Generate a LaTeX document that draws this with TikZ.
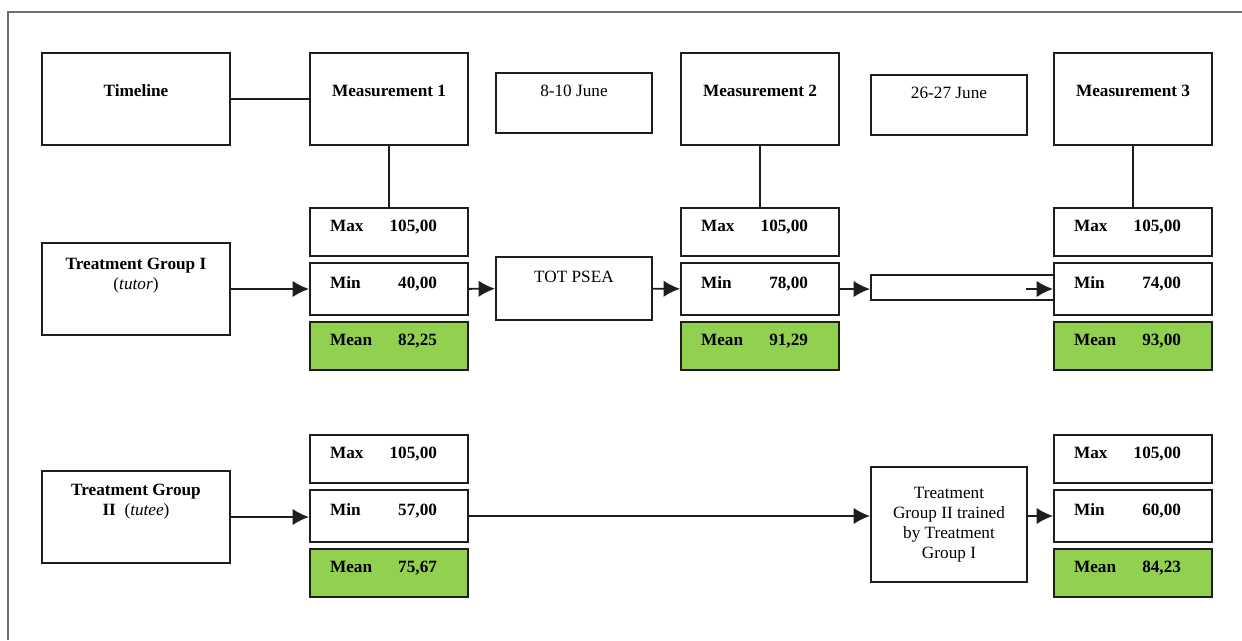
\documentclass[tikz,border=0pt]{standalone}
\usepackage{fontspec}
\setmainfont{Liberation Serif}
\usepackage{xcolor}
\usepackage{tikz}
\usetikzlibrary{positioning, arrows.meta}
\definecolor{meangreen}{HTML}{92D050}
\definecolor{framegray}{HTML}{707070}
\definecolor{boxline}{HTML}{1E1E1E}

\begin{document}
\begin{tikzpicture}[x=0.02cm, y=-0.02cm, >={Latex[length=3.3mm, width=3.3mm]}, line width=1.1pt, draw=boxline,
  every node/.style={font=\fontsize{9.8}{11.4}\selectfont},
  box/.style={draw=boxline, rectangle, align=center, inner sep=2pt},
  boldbox/.style={box, font=\fontsize{9.8}{11.4}\selectfont\bfseries},
  headbox/.style={boldbox, minimum width=3.16cm, minimum height=1.84cm, text depth=0.33cm},
  groupbox/.style={boldbox, minimum width=3.76cm, minimum height=1.84cm},
  datebox/.style={box, minimum width=3.12cm, minimum height=1.2cm, text depth=0.49cm},
  stat/.style={draw=boxline, rectangle, minimum width=3.16cm, minimum height=0.96cm, inner xsep=0pt, text width=2.36cm, align=left, text depth=0.25cm, font=\fontsize{9.8}{11.4}\selectfont\bfseries, execute at end node={\hspace*{2.2mm}}},
  minstat/.style={stat, minimum height=1.04cm},
  meanstat/.style={stat, fill=meangreen}]
\useasboundingbox (0,0) rectangle (1242,640);
\draw[framegray, line width=0.6pt] (8,640) -- (8,12) -- (1242,12);

% timeline row
\node[groupbox, text depth=0.33cm] (timeline) at (136,99) {Timeline};
\node[headbox] (meas1) at (389,99) {Measurement 1};
\node[datebox] (june1) at (574,103) {8-10 June};
\node[headbox] (meas2) at (760,99) {Measurement 2};
\node[datebox] (june2) at (949,105) {26-27 June};
\node[headbox] (meas3) at (1133,99) {Measurement 3};

% treatment group I
\node[groupbox, text depth=0.6cm] (groupA) at (136,289) {Treatment Group I\\{\mdseries(\textit{tutor})}};
\node[minstat] (minA1) at (389,289) {Min\hfill 40,00};
\node[stat, above=0.1cm of minA1] (maxA1) {Max\hfill 105,00};
\node[meanstat, below=0.1cm of minA1] (meanA1) {Mean\hfill 82,25};
\node[datebox, minimum height=1.26cm, text depth=0.47cm] (tot) at (574,288.5) {TOT PSEA};
\node[minstat] (minA2) at (760,289) {Min\hfill 78,00};
\node[stat, above=0.1cm of minA2] (maxA2) {Max\hfill 105,00};
\node[meanstat, below=0.1cm of minA2] (meanA2) {Mean\hfill 91,29};
\node[draw=boxline, minimum width=3.66cm, minimum height=0.5cm, inner sep=0pt] (gapA) at (962.5,287.5) {};
\node[minstat] (minA3) at (1133,289) {Min\hfill 74,00};
\node[stat, above=0.1cm of minA3] (maxA3) {Max\hfill 105,00};
\node[meanstat, below=0.1cm of minA3] (meanA3) {Mean\hfill 93,00};
\coordinate (gapend) at (1026,289);

% treatment group II
\node[groupbox, text depth=0.7cm] (groupB) at (136,517) {Treatment Group\\II~~{\mdseries(\textit{tutee})}};
\node[minstat] (minB1) at (389,516) {Min\hfill 57,00};
\node[stat, above=0.1cm of minB1] (maxB1) {Max\hfill 105,00};
\node[meanstat, below=0.1cm of minB1] (meanB1) {Mean\hfill 75,67};
\node[box, minimum width=3.12cm, minimum height=2.3cm] (trained) at (949,524.5) {Treatment\\Group II trained\\by Treatment\\Group I};
\node[minstat] (minB3) at (1133,516) {Min\hfill 60,00};
\node[stat, above=0.1cm of minB3] (maxB3) {Max\hfill 105,00};
\node[meanstat, below=0.1cm of minB3] (meanB3) {Mean\hfill 84,23};

\draw (timeline) -- (meas1);
\draw (meas1) -- (maxA1);
\draw (meas2) -- (maxA2);
\draw (meas3) -- (maxA3);
\draw[->] (groupA) -- (minA1);
\draw[->] (minA1) -- (tot);
\draw[->] (tot) -- (minA2);
\draw[->] (minA2.east) -- (minA2.east -| gapA.west);
\draw[->] (gapend) -- (minA3);
\draw[->] (groupB.east) -- (groupB.east -| minB1.west);
\draw[->] (minB1.east) -- (minB1.east -| trained.west);
\draw[->] (trained.east |- minB3.west) -- (minB3.west);
\end{tikzpicture}
\end{document}
